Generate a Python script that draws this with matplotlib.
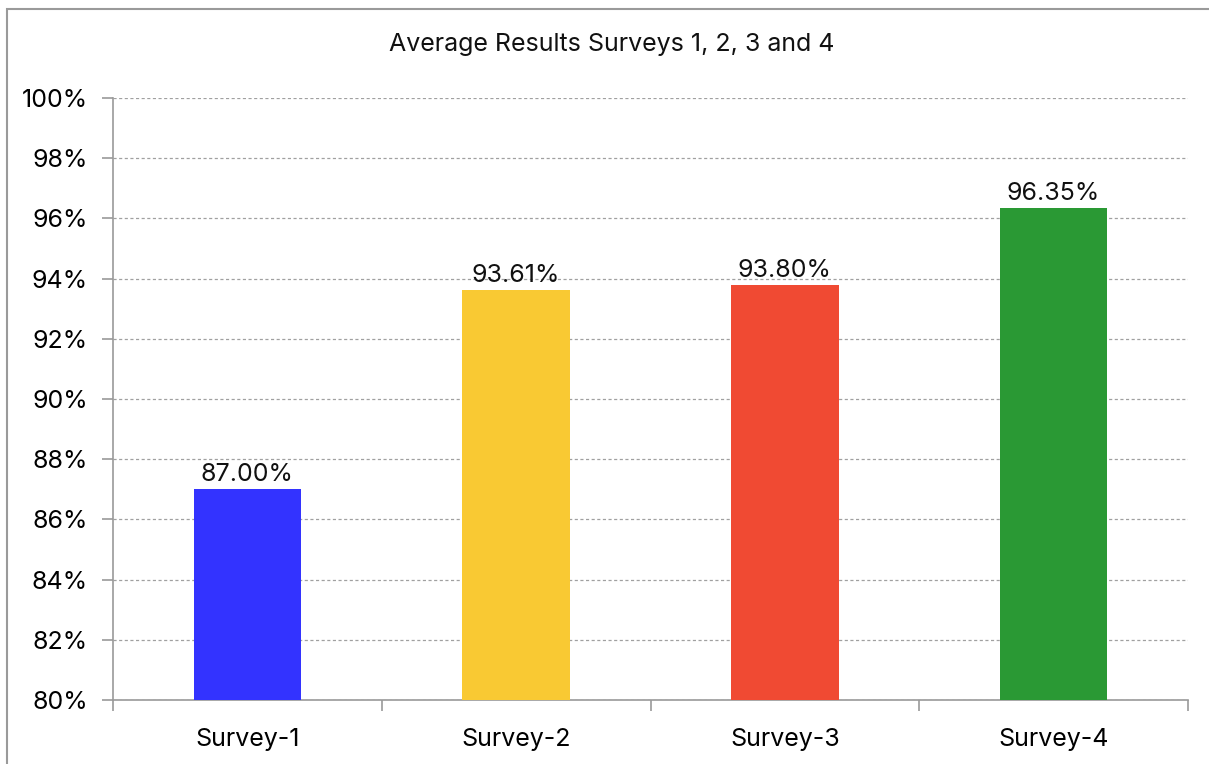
import matplotlib.pyplot as plt
from matplotlib.patches import Rectangle
from matplotlib.ticker import FixedLocator

plt.rcParams['font.family'] = ['Inter', 'DejaVu Sans']

surveys = ['Survey-1', 'Survey-2', 'Survey-3', 'Survey-4']
averages = [87.00, 93.61, 93.80, 96.35]
bar_colors = ['#3333FF', '#F9C933', '#F04A33', '#2A9934']
y_ticks = [80, 82, 84, 86, 88, 90, 92, 94, 96, 98, 100]

fig = plt.figure(figsize=(12.09, 7.64), dpi=100)
ax = fig.add_axes([0.0935, 0.0838, 0.8891, 0.7879])

# chart frame
fig.patches.append(Rectangle((7 / 1209, -0.1), 1.2, 1 - 9 / 764 + 0.1,
                             transform=fig.transFigure, fill=False,
                             edgecolor='#9a9a9a', linewidth=1.5))

fs = 18
x = range(len(surveys))
bars = ax.bar(x, averages, width=0.4, color=bar_colors, zorder=3)
for b, v in zip(bars, averages):
    ax.text(b.get_x() + b.get_width() / 2, v + 0.1, f'{v:.2f}%',
            ha='center', va='bottom', fontsize=fs, color='#111111')

ax.set_ylim(80, 100)
ax.set_xlim(-0.5, len(surveys) - 0.5)
ax.set_yticks(y_ticks)
ax.set_yticklabels([f'{t}%' for t in y_ticks], fontsize=fs)
ax.set_xticks(list(x))
ax.set_xticklabels(surveys, fontsize=fs)
ax.xaxis.set_minor_locator(FixedLocator([i - 0.5 for i in range(len(surveys) + 1)]))
ax.tick_params(axis='x', which='major', length=0, pad=20)
ax.tick_params(axis='x', which='minor', length=8, width=1.2, color='#9a9a9a', direction='out')
ax.tick_params(axis='y', length=8, width=1.2, color='#9a9a9a', direction='out', pad=10)

ax.yaxis.grid(True, linestyle=(0, (2.5, 2)), color='#a0a0a0', linewidth=0.9, zorder=0)
for s in ['top', 'right']:
    ax.spines[s].set_visible(False)
for s in ['left', 'bottom']:
    ax.spines[s].set_color('#9a9a9a')
    ax.spines[s].set_linewidth(1.2)

fig.text(0.506, 1 - 44 / 764, 'Average Results Surveys 1, 2, 3 and 4',
         ha='center', va='center', fontsize=fs, color='#111111')

fig.savefig('out.png', dpi=100)
